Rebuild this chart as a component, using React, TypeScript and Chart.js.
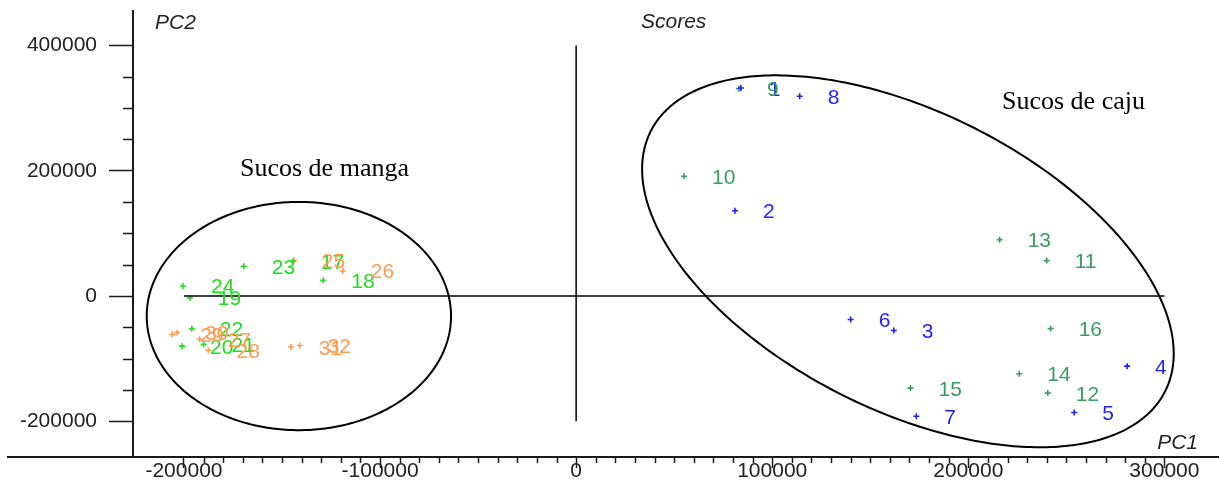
import React, { useEffect, useRef } from "react";
import { Chart, registerables } from "chart.js";

Chart.register(...registerables);

// Cashew juice samples 1–8
const CAJU_A_IDS = ["1", "2", "3", "4", "5", "6", "7", "8"];
const CAJU_A_PC1 = [84000, 81000, 162000, 281000, 254000, 140000, 173500, 114000];
const CAJU_A_PC2 = [332000, 136000, -55000, -112000, -186000, -37500, -192000, 319000];

// Cashew juice samples 9–16
const CAJU_B_IDS = ["9", "10", "11", "12", "13", "14", "15", "16"];
const CAJU_B_PC1 = [83000, 55000, 240000, 240500, 216000, 226000, 170500, 242000];
const CAJU_B_PC2 = [331000, 191000, 56500, -155000, 90000, -124000, -147000, -52000];

// Mango juice samples 17–24
const MANGA_A_IDS = ["17", "18", "19", "20", "21", "22", "23", "24"];
const MANGA_A_PC1 = [-144500, -129000, -197000, -201000, -190000, -196000, -169500, -200500];
const MANGA_A_PC2 = [55000, 25000, -3000, -80000, -77000, -52000, 47500, 16000];

// Mango juice samples 25–32
const MANGA_B_IDS = ["25", "26", "27", "28", "29", "30", "31", "32"];
const MANGA_B_PC1 = [-144000, -119000, -192000, -187500, -206000, -203500, -145500, -141000];
const MANGA_B_PC2 = [56500, 40000, -69000, -86500, -61500, -58500, -81500, -79000];

// Axis ticks
const X_TICK_LABELS = [-200000, -100000, 0, 100000, 200000, 300000];
const Y_TICK_LABELS = [-200000, 0, 200000, 400000];
const X_MINOR_STEP = 10000;
const Y_MINOR_STEP = 50000;
const X_MIN = -226000;
const X_MAX = 325000;
const Y_MIN = -257000;
const Y_MAX = 455000;

// Reference cross through the origin
const ORIGIN_H = [
  { x: -200000, y: 0 },
  { x: 300000, y: 0 },
];
const ORIGIN_V = [
  { x: 0, y: 400000 },
  { x: 0, y: -200000 },
];

// Group ellipses: centre plus two conjugate semi-diameters (data units)
const ELLIPSE_MANGA = { cx: -141400, cy: -32000, ux: 77600, uy: 0, vx: 0, vy: 182200 };
const ELLIPSE_CAJU = { cx: 169200, cy: 55400, ux: 131200, uy: -207400, vx: -34100, vy: -212400 };

const COLOR_BLUE = "#1f1fff";
const COLOR_TEAL = "#3a9e62";
const COLOR_LIME = "#1ee01e";
const COLOR_ORANGE = "#ff9b4f";
const AXIS_COLOR = "#1a1a1a";
const SANS = "'Liberation Sans', Arial, sans-serif";
const SERIF = "'Liberation Serif', 'Times New Roman', serif";

const zip = (xs: number[], ys: number[]) => xs.map((x, i) => ({ x, y: ys[i] }));

const pointSet = (ids: string[], xs: number[], ys: number[], color: string) => ({
  type: "scatter" as const,
  data: zip(xs, ys),
  ids,
  borderColor: color,
  backgroundColor: color,
  pointStyle: "cross",
  pointRadius: 3,
  pointBorderWidth: 1.6,
  showLine: false,
});

const lineSet = (pts: { x: number; y: number }[]) => ({
  type: "scatter" as const,
  data: pts,
  borderColor: "#000",
  borderWidth: 1.5,
  pointRadius: 0,
  showLine: true,
});

const decorations = {
  id: "decorations",
  beforeDatasetsDraw(chart: any) {
    const { ctx } = chart;
    const xs = chart.scales.x;
    const ys = chart.scales.y;
    const drawEllipse = (e: typeof ELLIPSE_CAJU) => {
      ctx.save();
      ctx.beginPath();
      const n = 360;
      for (let i = 0; i <= n; i++) {
        const t = (i / n) * Math.PI * 2;
        const c = Math.cos(t);
        const s = Math.sin(t);
        const px = xs.getPixelForValue(e.cx + e.ux * c + e.vx * s);
        const py = ys.getPixelForValue(e.cy + e.uy * c + e.vy * s);
        if (i === 0) ctx.moveTo(px, py);
        else ctx.lineTo(px, py);
      }
      ctx.closePath();
      ctx.strokeStyle = "#000";
      ctx.lineWidth = 2;
      ctx.stroke();
      ctx.restore();
    };
    drawEllipse(ELLIPSE_MANGA);
    drawEllipse(ELLIPSE_CAJU);
  },
  afterDraw(chart: any) {
    const { ctx, chartArea } = chart;
    const xs = chart.scales.x;
    const ys = chart.scales.y;
    ctx.save();
    ctx.strokeStyle = AXIS_COLOR;
    // x axis line runs past the y axis on both sides
    ctx.lineWidth = 2;
    ctx.beginPath();
    ctx.moveTo(7, chartArea.bottom);
    ctx.lineTo(chart.width, chartArea.bottom);
    ctx.stroke();
    // minor ticks
    ctx.lineWidth = 1.5;
    ctx.beginPath();
    const x0 = X_TICK_LABELS[0];
    const x1 = X_TICK_LABELS[X_TICK_LABELS.length - 1];
    for (let v = x0; v <= x1; v += X_MINOR_STEP) {
      if (X_TICK_LABELS.includes(v)) continue;
      const px = Math.round(xs.getPixelForValue(v)) + 0.5;
      ctx.moveTo(px, chartArea.bottom);
      ctx.lineTo(px, chartArea.bottom + 6);
    }
    const y0 = Y_TICK_LABELS[0];
    const y1 = Y_TICK_LABELS[Y_TICK_LABELS.length - 1];
    for (let v = y0; v <= y1; v += Y_MINOR_STEP) {
      if (Y_TICK_LABELS.includes(v)) continue;
      const py = Math.round(ys.getPixelForValue(v)) + 0.5;
      ctx.moveTo(chartArea.left - 10, py);
      ctx.lineTo(chartArea.left, py);
    }
    ctx.stroke();

    // axis titles
    ctx.fillStyle = "#222";
    ctx.font = `italic 21px ${SANS}`;
    ctx.textBaseline = "middle";
    ctx.textAlign = "left";
    ctx.fillText("PC2", 155, 23);
    ctx.fillText("Scores", 641, 22);
    ctx.textAlign = "right";
    ctx.fillText("PC1", 1198, 443);

    // group names
    ctx.fillStyle = "#000";
    ctx.font = `26px ${SERIF}`;
    ctx.textAlign = "left";
    ctx.textBaseline = "alphabetic";
    ctx.fillText("Sucos de manga", 240, 176);
    ctx.fillText("Sucos de caju", 1002, 109);
    ctx.restore();
  },
  afterDatasetsDraw(chart: any) {
    const { ctx } = chart;
    ctx.save();
    ctx.font = `21px ${SANS}`;
    ctx.textAlign = "left";
    ctx.textBaseline = "alphabetic";
    chart.data.datasets.forEach((ds: any, i: number) => {
      if (!ds.ids) return;
      const meta = chart.getDatasetMeta(i);
      ctx.fillStyle = ds.borderColor;
      meta.data.forEach((el: any, j: number) => {
        ctx.fillText(ds.ids[j], el.x + 28, el.y + 7.5);
      });
    });
    ctx.restore();
  },
};

export default function App() {
  const canvasRef = useRef<HTMLCanvasElement | null>(null);

  useEffect(() => {
    const canvas = canvasRef.current;
    if (!canvas) return;
    const chart = new Chart(canvas, {
      type: "scatter",
      data: {
        datasets: [
          lineSet(ORIGIN_H),
          lineSet(ORIGIN_V),
          pointSet(CAJU_A_IDS, CAJU_A_PC1, CAJU_A_PC2, COLOR_BLUE),
          pointSet(CAJU_B_IDS, CAJU_B_PC1, CAJU_B_PC2, COLOR_TEAL),
          pointSet(MANGA_A_IDS, MANGA_A_PC1, MANGA_A_PC2, COLOR_LIME),
          pointSet(MANGA_B_IDS, MANGA_B_PC1, MANGA_B_PC2, COLOR_ORANGE),
        ] as any,
      },
      options: {
        animation: false,
        responsive: false,
        maintainAspectRatio: false,
        layout: { padding: { top: 11, right: 3, left: 0, bottom: 0 } },
        plugins: {
          legend: { display: false },
          tooltip: { enabled: false },
          title: { display: false },
        },
        scales: {
          x: {
            type: "linear",
            position: "bottom",
            min: X_MIN,
            max: X_MAX,
            afterBuildTicks: (scale: any) => {
              scale.ticks = X_TICK_LABELS.map((value) => ({ value }));
            },
            afterFit: (scale: any) => {
              scale.height = 38;
              scale.paddingLeft = 0;
              scale.paddingRight = 0;
            },
            border: { display: false },
            grid: {
              drawOnChartArea: false,
              drawTicks: true,
              tickLength: 11,
              tickWidth: 1.5,
              tickColor: AXIS_COLOR,
            },
            ticks: {
              padding: -9,
              maxRotation: 0,
              autoSkip: false,
              color: "#222",
              font: { family: SANS, size: 21 },
              callback: (v: any) => String(v),
            },
          },
          y: {
            type: "linear",
            position: "left",
            min: Y_MIN,
            max: Y_MAX,
            afterBuildTicks: (scale: any) => {
              scale.ticks = Y_TICK_LABELS.map((value) => ({ value }));
            },
            afterFit: (scale: any) => {
              scale.width = 133;
              scale.paddingTop = 0;
              scale.paddingBottom = 0;
            },
            border: { display: true, color: AXIS_COLOR, width: 2 },
            grid: {
              drawOnChartArea: false,
              drawTicks: true,
              tickLength: 24,
              tickWidth: 1.5,
              tickColor: AXIS_COLOR,
            },
            ticks: {
              padding: 12,
              autoSkip: false,
              color: "#222",
              font: { family: SANS, size: 21 },
              callback: (v: any) => String(v),
            },
          },
        },
      },
      plugins: [decorations],
    });
    return () => chart.destroy();
  }, []);

  return (
    <div style={{ position: "absolute", left: 0, top: 0, width: 1219, height: 495, background: "#fff" }}>
      <canvas ref={canvasRef} width={1219} height={495} style={{ display: "block" }} />
    </div>
  );
}
